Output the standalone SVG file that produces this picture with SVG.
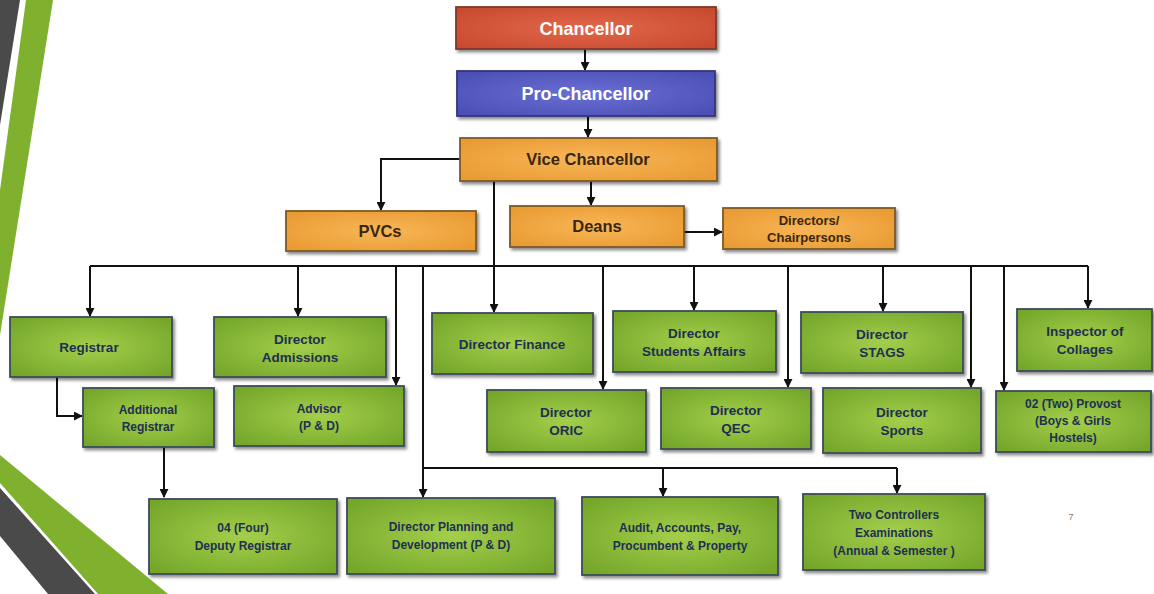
<svg xmlns="http://www.w3.org/2000/svg" width="1154" height="594" viewBox="0 0 1154 594">
<defs>
<radialGradient id="gGreen" cx="50%" cy="50%" r="65%"><stop offset="0" stop-color="#a3cf4a"/><stop offset="1" stop-color="#74a62a"/></radialGradient>
<radialGradient id="gOrange" cx="50%" cy="50%" r="65%"><stop offset="0" stop-color="#f8b658"/><stop offset="1" stop-color="#e99a31"/></radialGradient>
<radialGradient id="gRed" cx="50%" cy="50%" r="65%"><stop offset="0" stop-color="#e2674a"/><stop offset="1" stop-color="#c84a2f"/></radialGradient>
<radialGradient id="gBlue" cx="50%" cy="50%" r="65%"><stop offset="0" stop-color="#6a6fd6"/><stop offset="1" stop-color="#4b4fb3"/></radialGradient>
<filter id="sh" x="-10%" y="-20%" width="125%" height="150%"><feDropShadow dx="2" dy="2.5" stdDeviation="1.5" flood-color="#000" flood-opacity="0.45"/></filter>
<marker id="ar" viewBox="0 0 10 10" refX="9" refY="5" markerWidth="4.5" markerHeight="4.5" orient="auto"><path d="M0,0 L10,5 L0,10 z" fill="#111"/></marker>
</defs>
<style>
.box{stroke:#3d4b5c;stroke-width:1.8;filter:url(#sh)}
.g{fill:url(#gGreen)}
.o{fill:url(#gOrange);stroke:#7a5a2a}
.r{fill:url(#gRed);stroke:#7a3a2a}
.b{fill:url(#gBlue);stroke:#33357a}
text{font-family:"Liberation Sans",Arial,sans-serif;font-weight:bold;text-anchor:middle}
.tg{fill:#1e2f52;font-size:13.5px}
.ts{fill:#1e2f52;font-size:12px}
.to{fill:#3a2710;font-size:16.5px}
.tw{fill:#ffffff;font-size:18px}
.c{fill:none;stroke:#111;stroke-width:2}
.ca{fill:none;stroke:#111;stroke-width:2;marker-end:url(#ar)}
</style>
<rect width="1154" height="594" fill="#ffffff"/>
<g id="decor">
<polygon points="0,0 20,0 0,125" fill="#4a4a4a"/>
<polygon points="26,0 53,0 0,335 0,190" fill="#7fb02e"/>
<polygon points="0,455 168,594 98,594 0,483" fill="#7fb02e"/>
<polygon points="0,488 95,594 48,594 0,536" fill="#4a4a4a"/>
</g>
<g id="connectors">
<path class="ca" d="M585,49 V70"/>
<path class="ca" d="M588,116 V137"/>
<path class="ca" d="M591,181 V205"/>
<path class="ca" d="M460,159 H381 V210"/>
<path class="ca" d="M684,232 H722"/>
<path class="ca" d="M494,181 V312"/>
<path class="c" d="M90,266 H1088"/>
<path class="ca" d="M90,266 V316"/>
<path class="ca" d="M298,266 V316"/>
<path class="ca" d="M396,266 V385"/>
<path class="ca" d="M603,266 V389"/>
<path class="ca" d="M694,266 V310"/>
<path class="ca" d="M788,266 V387"/>
<path class="ca" d="M883,266 V311"/>
<path class="ca" d="M971,266 V387"/>
<path class="ca" d="M1004,266 V390"/>
<path class="ca" d="M1088,266 V308"/>
<path class="ca" d="M423,266 V497"/>
<path class="c" d="M423,468 H897"/>
<path class="ca" d="M663,468 V496"/>
<path class="ca" d="M897,468 V493"/>
<path class="ca" d="M57,377 V416 H82"/>
<path class="ca" d="M164,447 V497"/>
</g>
<g id="chancellor"><rect class="box r" x="456" y="7" width="260" height="42"/><text class="tw" x="586" y="35">Chancellor</text></g>
<g id="pro-chancellor"><rect class="box b" x="457" y="71" width="258" height="45"/><text class="tw" x="586" y="100">Pro-Chancellor</text></g>
<g id="vice-chancellor"><rect class="box o" x="460" y="138" width="257" height="43"/><text class="to" x="588" y="165">Vice Chancellor</text></g>
<g id="pvcs"><rect class="box o" x="286" y="211" width="190" height="40"/><text class="to" x="380" y="237">PVCs</text></g>
<g id="deans"><rect class="box o" x="510" y="206" width="174" height="41"/><text class="to" x="597" y="232">Deans</text></g>
<g id="directors-chairpersons"><rect class="box o" x="723" y="208" width="172" height="41"/><text class="to" style="font-size:13px" x="809" y="225">Directors/</text><text class="to" style="font-size:13px" x="809" y="242">Chairpersons</text></g>
<g id="registrar"><rect class="box g" x="10" y="317" width="162" height="60"/><text class="tg" x="89" y="352">Registrar</text></g>
<g id="director-admissions"><rect class="box g" x="214" y="317" width="172" height="60"/><text class="tg" x="300" y="344">Director</text><text class="tg" x="300" y="362">Admissions</text></g>
<g id="additional-registrar"><rect class="box g" x="83" y="388" width="131" height="59"/><text class="ts" x="148" y="414">Additional</text><text class="ts" x="148" y="431">Registrar</text></g>
<g id="advisor"><rect class="box g" x="234" y="386" width="170" height="60"/><text class="ts" x="319" y="413">Advisor</text><text class="ts" x="319" y="430">(P &amp; D)</text></g>
<g id="director-finance"><rect class="box g" x="432" y="313" width="161" height="61"/><text class="tg" x="512" y="349">Director Finance</text></g>
<g id="director-students-affairs"><rect class="box g" x="613" y="311" width="163" height="61"/><text class="tg" x="694" y="338">Director</text><text class="tg" x="694" y="356">Students Affairs</text></g>
<g id="director-oric"><rect class="box g" x="487" y="390" width="159" height="62"/><text class="tg" x="566" y="417">Director</text><text class="tg" x="566" y="435">ORIC</text></g>
<g id="director-qec"><rect class="box g" x="661" y="388" width="150" height="61"/><text class="tg" x="736" y="415">Director</text><text class="tg" x="736" y="433">QEC</text></g>
<g id="director-stags"><rect class="box g" x="801" y="312" width="162" height="61"/><text class="tg" x="882" y="339">Director</text><text class="tg" x="882" y="357">STAGS</text></g>
<g id="inspector-of-collages"><rect class="box g" x="1017" y="309" width="135" height="62"/><text class="tg" x="1085" y="336">Inspector of</text><text class="tg" x="1085" y="354">Collages</text></g>
<g id="director-sports"><rect class="box g" x="823" y="388" width="158" height="65"/><text class="tg" x="902" y="417">Director</text><text class="tg" x="902" y="435">Sports</text></g>
<g id="provost"><rect class="box g" x="996" y="391" width="155" height="61"/><text class="ts" x="1073" y="408">02 (Two) Provost</text><text class="ts" x="1073" y="425">(Boys &amp; Girls</text><text class="ts" x="1073" y="442">Hostels)</text></g>
<g id="deputy-registrar"><rect class="box g" x="149" y="499" width="188" height="75"/><text class="ts" x="243" y="532">04 (Four)</text><text class="ts" x="243" y="550">Deputy Registrar</text></g>
<g id="director-planning"><rect class="box g" x="347" y="498" width="208" height="76"/><text class="ts" x="451" y="531">Director Planning and</text><text class="ts" x="451" y="549">Development (P &amp; D)</text></g>
<g id="audit"><rect class="box g" x="582" y="497" width="196" height="78"/><text class="ts" x="680" y="532">Audit, Accounts, Pay,</text><text class="ts" x="680" y="550">Procumbent &amp; Property</text></g>
<g id="two-controllers"><rect class="box g" x="803" y="494" width="182" height="76"/><text class="ts" x="894" y="519">Two Controllers</text><text class="ts" x="894" y="537">Examinations</text><text class="ts" x="894" y="555">(Annual  &amp; Semester )</text></g>
<text x="1071" y="520" style="font-size:9px;font-weight:normal;fill:#777">7</text>
</svg>
